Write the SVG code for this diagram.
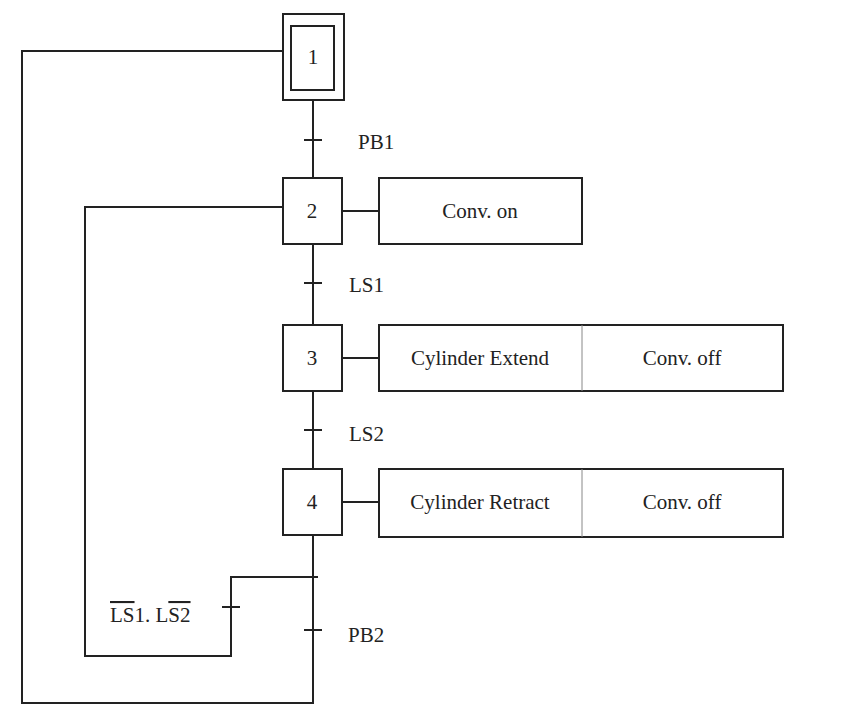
<svg xmlns="http://www.w3.org/2000/svg" width="864" height="723" viewBox="0 0 864 723">
<style>
.b{fill:#fff;stroke:#222;stroke-width:2}
.l{fill:none;stroke:#222;stroke-width:2}
text{font-family:"Liberation Serif","DejaVu Serif",serif;font-size:21px;fill:#222}
.o{text-decoration:overline}
</style>
<rect width="864" height="723" fill="#fff"/>
<g id="connectors">
<path class="l" d="M283 51H22V703H313V100"/>
<path class="l" d="M318 577H231V656H85V207H283"/>
<path class="l" d="M342 211H379M342 358H379M342 502H379"/>
<path class="l" d="M304 140H322M304 283H322M304 430H322M304 630H322M222 607H240"/>
</g>
<g id="s1"><rect class="b" x="283" y="14" width="61" height="86"/><rect class="b" x="291" y="26" width="43" height="64"/><text x="313" y="64" text-anchor="middle" font-family="Liberation Serif, serif">1</text></g>
<g id="s2"><rect class="b" x="283" y="178" width="59" height="66"/><text x="312" y="218" text-anchor="middle" font-family="Liberation Serif, serif">2</text></g>
<g id="s3"><rect class="b" x="283" y="325" width="59" height="66"/><text x="312" y="365" text-anchor="middle" font-family="Liberation Serif, serif">3</text></g>
<g id="s4"><rect class="b" x="283" y="469" width="59" height="66"/><text x="312" y="509" text-anchor="middle" font-family="Liberation Serif, serif">4</text></g>
<g id="a2"><rect class="b" x="379" y="178" width="203" height="66"/><text x="480" y="218" text-anchor="middle" font-family="Liberation Serif, serif">Conv. on</text></g>
<g id="a3"><rect class="b" x="379" y="325" width="404" height="66"/><line x1="582" y1="325" x2="582" y2="391" stroke="#888"/><text x="480" y="365" text-anchor="middle" font-family="Liberation Serif, serif">Cylinder Extend</text><text x="682" y="365" text-anchor="middle" font-family="Liberation Serif, serif">Conv. off</text></g>
<g id="a4"><rect class="b" x="379" y="469" width="404" height="68"/><line x1="582" y1="469" x2="582" y2="537" stroke="#888"/><text x="480" y="509" text-anchor="middle" font-family="Liberation Serif, serif">Cylinder Retract</text><text x="682" y="509" text-anchor="middle" font-family="Liberation Serif, serif">Conv. off</text></g>
<g id="labels" font-family="Liberation Serif, serif">
<text x="358" y="149" font-family="Liberation Serif, serif">PB1</text>
<text x="349" y="292" font-family="Liberation Serif, serif">LS1</text>
<text x="349" y="441" font-family="Liberation Serif, serif">LS2</text>
<text x="348" y="642" font-family="Liberation Serif, serif">PB2</text>
<text x="110" y="622" font-family="Liberation Serif, serif"><tspan class="o">LS</tspan>1. L<tspan class="o">S2</tspan></text>
</g>
</svg>
